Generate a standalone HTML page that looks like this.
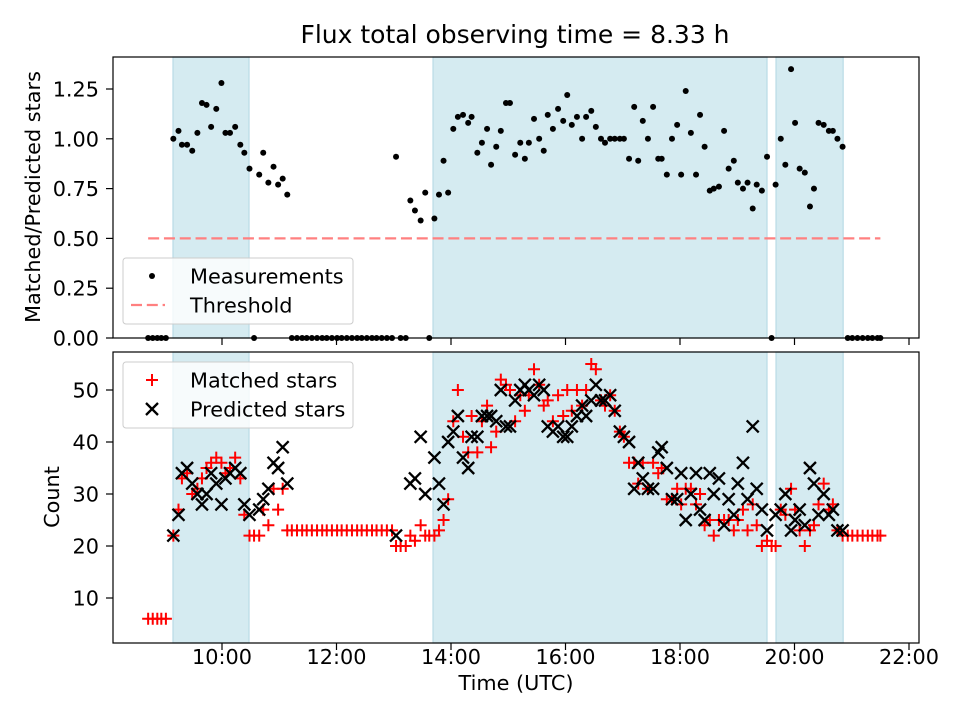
<!DOCTYPE html>
<html><head><meta charset="utf-8"><style>
body{margin:0;background:#fff}
svg{display:block;font-family:"DejaVu Sans","Liberation Sans",sans-serif}
</style></head><body>
<svg id="chart" width="960" height="720" viewBox="0 0 960 720"></svg>
<script>
const times=[8.71,8.79,8.87,8.94,9.02,9.15,9.24,9.30,9.39,9.48,9.57,9.65,9.73,9.81,9.90,9.99,10.06,10.14,10.23,10.32,10.39,10.48,10.56,10.65,10.72,10.81,10.90,10.98,11.06,11.14,
11.22,11.31,11.40,11.48,11.57,11.66,11.75,11.83,11.92,12.01,12.09,12.18,12.27,12.36,12.44,12.53,12.62,12.70,12.79,12.88,12.97,
13.04,13.12,13.21,13.29,13.37,13.47,13.55,13.62,13.71,13.79,13.87,13.95,14.04,14.12,14.21,14.30,14.36,14.46,14.54,14.63,14.70,14.79,14.87,14.96,15.03,15.12,15.21,15.29,15.36,15.45,15.54,15.62,15.69,15.78,15.87,15.96,16.03,16.11,16.20,16.29,16.36,16.45,16.53,16.62,16.69,16.78,16.86,16.95,17.02,17.11,17.20,17.27,17.35,17.44,17.53,17.62,17.68,17.77,17.86,17.95,18.02,18.10,18.19,18.28,18.35,18.43,18.52,18.59,18.68,18.77,18.85,18.94,19.01,19.10,19.18,19.27,19.34,19.43,19.52,19.60,19.67,19.76,19.84,19.94,20.01,20.09,20.18,20.27,20.34,20.42,20.51,20.60,20.67,20.75,20.84,20.93,21.01,21.10,21.19,21.28,21.36,21.45,21.50];
const ratios=[0,0,0,0,0,1.00,1.04,0.97,0.97,0.94,1.03,1.18,1.17,1.06,1.15,1.28,1.03,1.03,1.06,0.97,0.93,0.85,0,0.82,0.93,0.78,0.86,0.77,0.80,0.72,
0,0,0,0,0,0,0,0,0,0,0,0,0,0,0,0,0,0,0,0,0,
0.91,0,0,0.69,0.64,0.59,0.73,0,0.60,0.72,0.89,0.73,1.05,1.11,1.12,1.08,1.11,0.93,0.98,1.05,0.87,0.96,1.04,1.18,1.18,0.92,0.98,0.90,0.98,1.10,1.00,0.94,1.12,1.05,1.15,1.09,1.22,1.07,1.11,1.00,1.11,1.14,1.06,1.00,0.98,1.00,1.00,1.00,1.00,0.90,1.16,0.89,1.09,1.00,1.16,0.90,0.90,0.82,1.00,1.07,0.82,1.24,1.03,0.82,1.12,0.96,0.74,0.75,0.76,1.04,0.85,0.89,0.78,0.75,0.78,0.65,0.77,0.74,0.91,0,0.77,1.00,0.87,1.35,1.08,0.85,0.83,0.66,0.75,1.08,1.07,1.04,1.04,1.00,0.96,0,0,0,0,0,0,0,0];
const matched=[6,6,6,6,6,22,27,33,34,30,31,33,35,36,37,36,34,35,37,33,26,22,22,22,27,24,31,27,31,23,
23,23,23,23,23,23,23,23,23,23,23,23,23,23,23,23,23,23,23,23,23,
20,20,20,22,21,24,22,22,22,23,25,29,44,50,41,38,45,38,44,47,39,42,52,51,50,44,49,46,49,54,51,47,48,44,49,45,50,46,50,47,50,55,54,48,47,49,46,42,41,36,36,32,36,31,36,34,35,29,29,31,28,31,31,28,30,24,25,22,25,25,25,23,25,27,23,28,24,20,21,20,20,27,26,31,27,23,20,23,24,28,32,27,28,23,22,22,22,22,22,22,22,22,22];
const predicted=[null,null,null,null,null,22,26,34,35,32,30,28,30,34,32,28,33,34,35,34,28,26,null,27,29,31,36,35,39,32,
null,null,null,null,null,null,null,null,null,null,null,null,null,null,null,null,null,null,null,null,null,
22,null,null,32,33,41,30,null,37,32,28,40,42,45,37,35,41,41,45,45,45,44,50,43,43,48,50,51,50,49,51,50,43,42,43,41,41,43,45,47,45,48,51,48,48,49,46,42,41,40,31,36,33,31,31,38,39,35,29,29,34,25,30,34,27,25,34,30,33,24,29,26,32,36,29,43,31,27,23,null,26,27,30,23,25,27,24,35,32,26,30,26,27,23,23,null,null,null,null,null,null,null,null];
const shadeSpans=[[9.144,10.472],[13.686,19.52],[19.677,20.85]];
const xTickLabels=["10:00","12:00","14:00","16:00","18:00","20:00","22:00"];
const xTickHours=[10,12,14,16,18,20,22];
const topTicks=[0,0.25,0.5,0.75,1.0,1.25];
const botTicks=[10,20,30,40,50];
const threshold=0.5, thrStart=8.71, thrEnd=21.50;

const NS="http://www.w3.org/2000/svg";
const svg=document.getElementById('chart');
function mk(tag,attrs,parent){const e=document.createElementNS(NS,tag);for(const k in attrs)e.setAttribute(k,attrs[k]);(parent||svg).appendChild(e);return e;}
const X=h=>222+(h-10)*57.25;
const YT=r=>338-r*199.2;
const YB=c=>650-c*5.2;
const L=113,R=919,T1=57,B1=338,T2=352,B2=643;
const FS=20.8, MS=6, DASH='11,4.8';

let t=mk('text',{x:515,y:43,'text-anchor':'middle','font-size':'25'});t.textContent='Flux total observing time = 8.33 h';



function panel(top,bot,name){
  const g=mk('g',{});
  
  
  shadeSpans.forEach((s,i)=>{
    const r=mk('rect',{x:X(s[0]),y:top,width:X(s[1])-X(s[0]),height:bot-top,fill:'#d5ebf1',stroke:'#b9dbe6','stroke-width':1.2},g);
    
    
  });
  return g;
}
const gTop=panel(T1,B1,'ratio-panel');
const gBot=panel(T2,B2,'count-panel');

const th=mk('line',{x1:X(thrStart),x2:X(thrEnd),y1:YT(threshold),y2:YT(threshold),stroke:'#ff8080','stroke-width':2.2,'stroke-dasharray':DASH},gTop);



times.forEach((h,i)=>{
  const c=mk('circle',{cx:X(h),cy:YT(ratios[i]),r:3,fill:'#000'},gTop);
  
  
});

function plus(g,x,y){return mk('path',{d:`M${x-MS},${y}H${x+MS}M${x},${y-MS}V${y+MS}`,stroke:'#ff0000','stroke-width':2,fill:'none'},g);}
function cross(g,x,y){return mk('path',{d:`M${x-MS},${y-MS}L${x+MS},${y+MS}M${x-MS},${y+MS}L${x+MS},${y-MS}`,stroke:'#000','stroke-width':2.3,fill:'none'},g);}

times.forEach((h,i)=>{
  const p=plus(gBot,X(h),YB(matched[i]));
  
  
});
times.forEach((h,i)=>{
  if(predicted[i]==null)return;
  const p=cross(gBot,X(h),YB(predicted[i]));
  
  
});

[[T1,B1,'ratio-axes-frame'],[T2,B2,'count-axes-frame']].forEach(f=>{
  const r=mk('rect',{x:L,y:f[0],width:R-L,height:f[1]-f[0],fill:'none',stroke:'#000','stroke-width':1.2});
  
  
});
xTickHours.forEach((h,i)=>{
  const x=X(h);
  mk('line',{x1:x,x2:x,y1:B1,y2:B1+7,stroke:'#000','stroke-width':1.2});
  mk('line',{x1:x,x2:x,y1:B2,y2:B2+7,stroke:'#000','stroke-width':1.2});
  const tx=mk('text',{x:x,y:664,'text-anchor':'middle','font-size':FS});tx.textContent=xTickLabels[i];
  
  
});
topTicks.forEach(v=>{
  const y=YT(v);
  mk('line',{x1:L-7,x2:L,y1:y,y2:y,stroke:'#000','stroke-width':1.2});
  const tx=mk('text',{x:99,y:y+7.5,'text-anchor':'end','font-size':FS});tx.textContent=v.toFixed(2);
  
  
});
botTicks.forEach(v=>{
  const y=YB(v);
  mk('line',{x1:L-7,x2:L,y1:y,y2:y,stroke:'#000','stroke-width':1.2});
  const tx=mk('text',{x:99,y:y+7.5,'text-anchor':'end','font-size':FS});tx.textContent=v;
  
  
});
let a=mk('text',{x:516,y:690,'text-anchor':'middle','font-size':FS});a.textContent='Time (UTC)';


a=mk('text',{x:0,y:0,'text-anchor':'middle','font-size':FS,transform:'translate(40,197) rotate(-90)'});a.textContent='Matched/Predicted stars';


a=mk('text',{x:0,y:0,'text-anchor':'middle','font-size':FS,transform:'translate(59,497) rotate(-90)'});a.textContent='Count';



function legend(y0,name,items){
  const g=mk('g',{});
  
  
  mk('rect',{x:123,y:y0,width:230,height:66,rx:3,fill:'rgba(255,255,255,0.8)',stroke:'#ccc'},g);
  items.forEach((it,i)=>{
    const cy=y0+18+i*29;
    it.draw(g,152,cy);
    const tx=mk('text',{x:190,y:cy+7.5,'font-size':FS},g);tx.textContent=it.label;
    
    
  });
}
legend(258,'ratio-legend',[
  {label:'Measurements',draw:(g,x,y)=>mk('circle',{cx:x,cy:y,r:3,fill:'#000'},g)},
  {label:'Threshold',draw:(g,x,y)=>mk('line',{x1:x-21,x2:x+13,y1:y,y2:y,stroke:'#ff8080','stroke-width':2.2,'stroke-dasharray':DASH},g)}
]);
legend(362,'count-legend',[
  {label:'Matched stars',draw:(g,x,y)=>plus(g,x,y)},
  {label:'Predicted stars',draw:(g,x,y)=>cross(g,x,y)}
]);
</script>
</body></html>
